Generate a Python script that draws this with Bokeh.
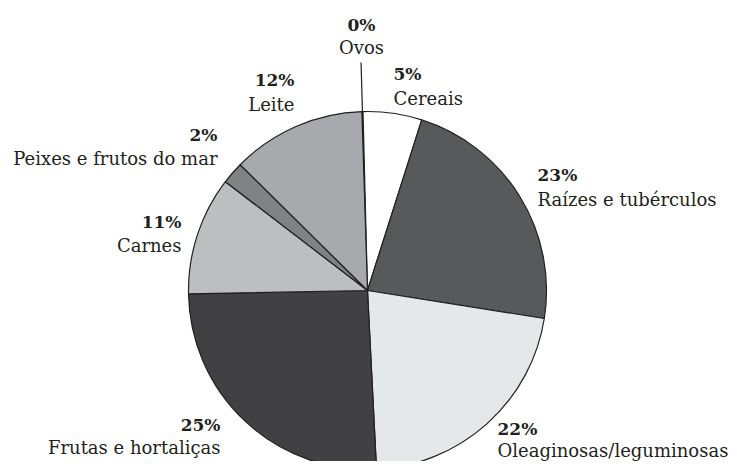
import math
from bokeh.plotting import figure
from bokeh.models import Range1d, ColumnDataSource
from bokeh.embed import file_html
from bokeh.resources import INLINE
from bokeh.core.properties import value

# ---- data ----
categories = ["Ovos", "Cereais", "Raízes e tubérculos", "Oleaginosas/leguminosas",
              "Frutas e hortaliças", "Carnes", "Peixes e frutos do mar", "Leite"]
shares = [0.1, 5.3, 22.6, 21.7, 25.5, 10.7, 2.0, 12.1]
pct_labels = ["0%", "5%", "23%", "22%", "25%", "11%", "2%", "12%"]

# ---- style / layout ----
colors = ["#111111", "#ffffff", "#58595b", "#e6e7e8", "#414042", "#bcbec0", "#808285", "#a7a9ac"]
W, H = 729, 461
CX, CY_SCREEN, R = 367, 290, 179
START = -1.8  # degrees, clockwise from top
# label anchors in screen px: (x, pct_y, name_y, align)
label_pos = [
    (361, 24, 47, "center"),
    (393, 73, 98, "left"),
    (537, 174, 199, "left"),
    (497, 428, 450, "left"),
    (220, 424, 447, "right"),
    (181, 221, 245, "right"),
    (217, 134, 158, "right"),
    (294, 79, 104, "right"),
]

def sy(y):  # screen y -> data y
    return H - y

CY = sy(CY_SCREEN)

total = sum(shares)
starts, ends = [], []
acc = START
for s in shares:
    a0 = acc
    a1 = acc + s / total * 360.0
    starts.append(math.radians(90 - a0))
    ends.append(math.radians(90 - a1))
    acc = a1

src = ColumnDataSource(dict(start=starts, end=ends, color=colors, cat=categories))

p = figure(width=W, height=H, output_backend="svg", toolbar_location=None,
           x_range=Range1d(0, W), y_range=Range1d(0, H),
           min_border=0, outline_line_color=None)
p.axis.visible = False
p.grid.visible = False
p.background_fill_color = "white"
p.border_fill_color = "white"

p.wedge(x=CX, y=CY, radius=R, start_angle="start", end_angle="end", direction="clock",
        fill_color="color", line_color="#231f20", line_width=1.2, source=src)

# leader line for the tiny "Ovos" slice
mid = (starts[0] + ends[0]) / 2
p.segment(x0=CX + R * math.cos(mid), y0=CY + R * math.sin(mid),
          x1=CX + 228 * math.cos(mid), y1=CY + 228 * math.sin(mid),
          line_color="#231f20", line_width=1.2)

for (lx, py, ny, al), cat, pl in zip(label_pos, categories, pct_labels):
    p.text(x=[lx], y=[sy(py)], text=[pl], text_align=al, text_baseline="middle",
           text_font=value("DejaVu Serif"), text_font_style="bold",
           text_font_size="17px", text_color="#231f20")
    p.text(x=[lx], y=[sy(ny)], text=[cat], text_align=al, text_baseline="middle",
           text_font=value("DejaVu Serif"), text_font_size="18px", text_color="#231f20")

open("out.html", "w").write(file_html(p, INLINE))
